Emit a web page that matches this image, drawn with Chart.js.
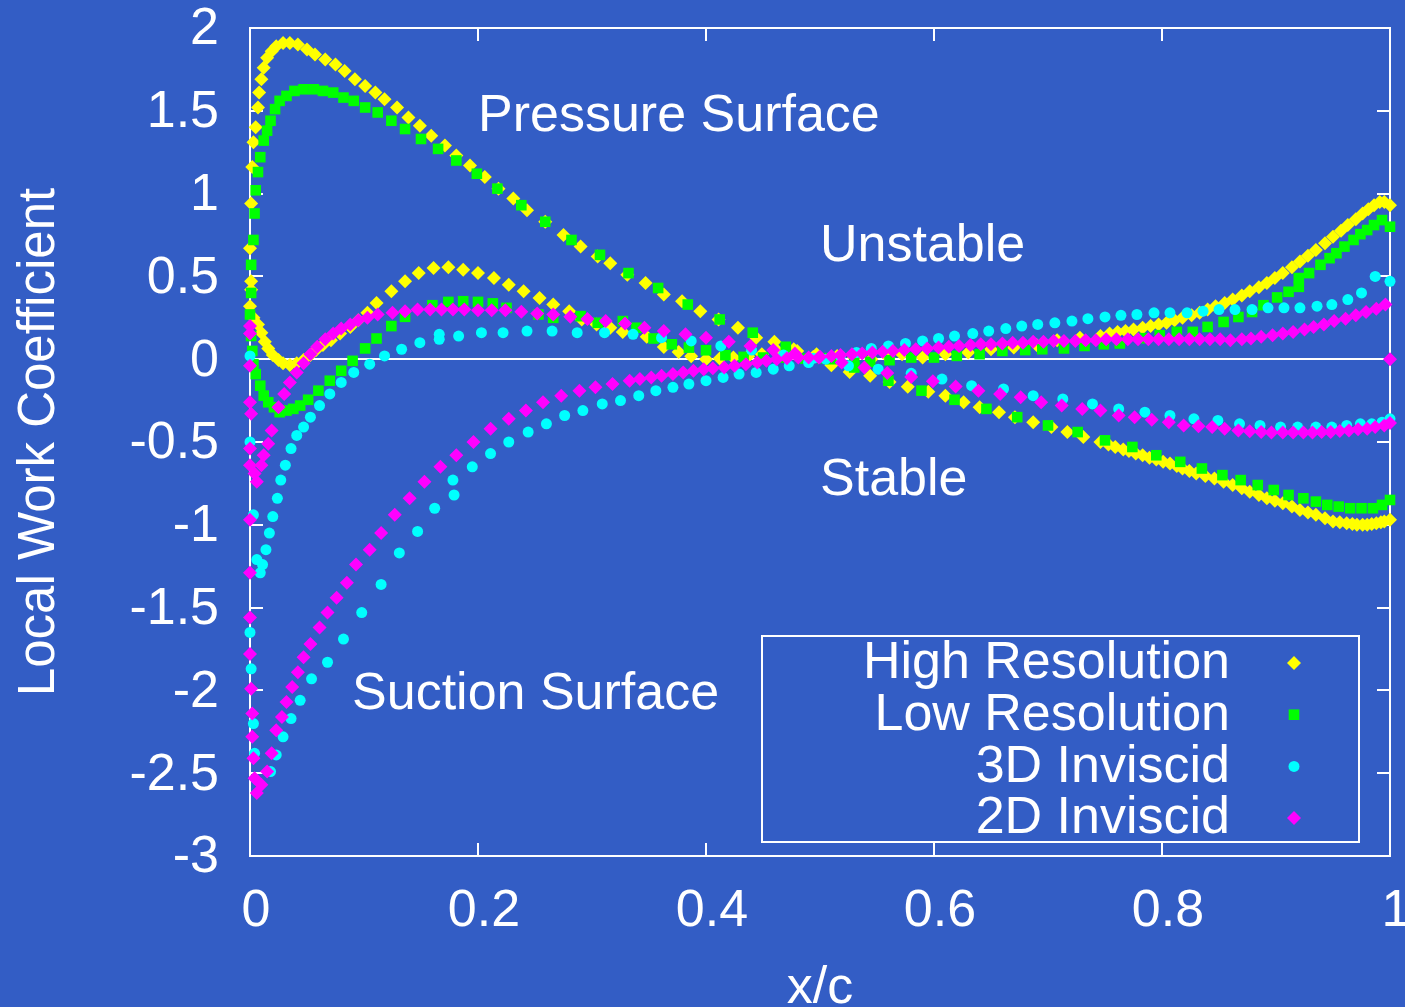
<!DOCTYPE html>
<html>
<head>
<meta charset="utf-8">
<title>Local Work Coefficient</title>
<script src="https://cdn.jsdelivr.net/npm/chart.js@4/dist/chart.umd.min.js"></script>
<style>
  html, body { margin: 0; padding: 0; background: #335dc5; }
  canvas { display: block; }
</style>
</head>
<body>
<canvas id="workChart" width="1405" height="1007"></canvas>
<script>
// Axis ticks
const xTicks = [0, 0.2, 0.4, 0.6, 0.8, 1];
const yTicks = [-3, -2.5, -2, -1.5, -1, -0.5, 0, 0.5, 1, 1.5, 2];

const seriesNames = ['High Resolution', 'Low Resolution', '3D Inviscid', '2D Inviscid'];

// High resolution, [x/c, coefficient] - branch with the 1.9 peak
const highResSurfaceA = [
	[0, 0.67], [0.001, 0.94], [0.002, 1.16], [0.003, 1.31], [0.005, 1.40], [0.007, 1.52], [0.008, 1.61],
	[0.010, 1.69], [0.012, 1.76], [0.015, 1.82], [0.019, 1.86], [0.023, 1.89], [0.029, 1.91], [0.035, 1.91],
	[0.042, 1.90], [0.050, 1.87], [0.057, 1.84], [0.066, 1.81], [0.075, 1.78], [0.083, 1.74], [0.092, 1.69],
	[0.101, 1.65], [0.110, 1.61], [0.118, 1.57], [0.129, 1.52], [0.139, 1.46], [0.149, 1.41], [0.159, 1.35],
	[0.171, 1.29], [0.181, 1.23], [0.193, 1.17], [0.206, 1.10], [0.218, 1.03], [0.231, 0.97], [0.243, 0.90],
	[0.259, 0.83], [0.275, 0.75], [0.290, 0.68], [0.305, 0.62], [0.316, 0.58], [0.331, 0.51], [0.347, 0.46],
	[0.363, 0.39], [0.379, 0.35], [0.395, 0.29], [0.411, 0.24], [0.428, 0.19], [0.444, 0.13], [0.460, 0.105],
	[0.477, 0.06], [0.494, 0.014], [0.510, -0.036], [0.526, -0.077], [0.544, -0.10], [0.561, -0.137],
	[0.577, -0.167], [0.595, -0.197], [0.610, -0.22], [0.626, -0.26], [0.640, -0.29], [0.657, -0.32],
	[0.671, -0.35], [0.687, -0.38], [0.703, -0.41], [0.717, -0.44], [0.731, -0.47], [0.746, -0.50],
	[0.753, -0.515], [0.759, -0.53], [0.766, -0.545], [0.771, -0.555], [0.777, -0.57], [0.783, -0.58],
	[0.789, -0.595], [0.795, -0.605], [0.801, -0.62], [0.807, -0.63], [0.813, -0.645], [0.818, -0.66],
	[0.824, -0.675], [0.830, -0.69], [0.838, -0.705], [0.846, -0.72], [0.854, -0.74], [0.862, -0.76],
	[0.870, -0.78], [0.877, -0.80], [0.885, -0.82], [0.892, -0.84], [0.899, -0.855], [0.906, -0.87],
	[0.914, -0.89], [0.921, -0.91], [0.928, -0.925], [0.935, -0.94], [0.943, -0.96], [0.950, -0.98],
	[0.956, -0.985], [0.962, -0.99], [0.967, -0.995], [0.971, -1.0], [0.976, -1.0], [0.980, -1.0],
	[0.984, -0.995], [0.988, -0.99], [0.992, -0.985], [0.995, -0.98], [1.0, -0.97]
];
// High resolution - branch with the small dip near the leading edge
const highResSurfaceB = [
	[0.001, 0.47], [0.001, 0.42], [0, 0.32], [0.003, 0.25], [0.007, 0.21], [0.010, 0.16], [0.013, 0.105],
	[0.016, 0.065], [0.020, 0.025], [0.025, -0.005], [0.029, -0.025], [0.035, -0.035], [0.041, -0.025],
	[0.047, -0.005], [0.053, 0.025], [0.058, 0.055], [0.064, 0.085], [0.071, 0.115], [0.079, 0.155],
	[0.088, 0.195], [0.095, 0.235], [0.103, 0.28], [0.111, 0.34], [0.124, 0.41], [0.136, 0.47], [0.148, 0.52],
	[0.161, 0.55], [0.174, 0.555], [0.187, 0.54], [0.200, 0.52], [0.214, 0.49], [0.227, 0.45], [0.240, 0.41],
	[0.254, 0.37], [0.266, 0.33], [0.280, 0.29], [0.291, 0.24], [0.304, 0.21], [0.316, 0.19], [0.327, 0.165],
	[0.348, 0.135], [0.363, 0.074], [0.376, 0.044], [0.387, 0.018], [0.400, 0], [0.412, 0.004], [0.424, 0.01],
	[0.437, 0.018], [0.449, 0.03], [0.462, 0.055], [0.480, 0.05], [0.497, 0.03], [0.515, 0.02], [0.530, 0.01],
	[0.545, 0], [0.560, 0.01], [0.572, 0.03], [0.590, 0.01], [0.610, 0.03], [0.630, 0.04], [0.650, 0.06],
	[0.670, 0.07], [0.690, 0.085], [0.708, 0.115], [0.728, 0.13], [0.746, 0.14], [0.754, 0.155], [0.761, 0.165],
	[0.768, 0.17], [0.775, 0.18], [0.783, 0.19], [0.790, 0.20], [0.797, 0.21], [0.804, 0.22], [0.811, 0.235],
	[0.818, 0.25], [0.826, 0.265], [0.833, 0.28], [0.840, 0.30], [0.847, 0.32], [0.855, 0.34], [0.862, 0.36],
	[0.870, 0.385], [0.877, 0.41], [0.885, 0.435], [0.892, 0.46], [0.899, 0.49], [0.906, 0.52], [0.914, 0.555],
	[0.921, 0.59], [0.928, 0.625], [0.935, 0.66], [0.943, 0.70], [0.950, 0.74], [0.957, 0.775], [0.963, 0.81],
	[0.970, 0.845], [0.976, 0.88], [0.981, 0.905], [0.986, 0.93], [0.991, 0.95], [0.995, 0.95], [1.0, 0.93]
];

// Low resolution
const lowResSurfaceA = [
	[0.001, 0.57], [0.003, 0.72], [0.004, 0.88], [0.005, 1.02], [0.007, 1.13], [0.009, 1.22], [0.012, 1.32],
	[0.015, 1.38], [0.018, 1.44], [0.022, 1.51], [0.026, 1.56], [0.032, 1.59], [0.039, 1.62], [0.047, 1.63],
	[0.056, 1.63], [0.064, 1.62], [0.073, 1.61], [0.082, 1.58], [0.091, 1.56], [0.101, 1.52], [0.112, 1.49],
	[0.124, 1.44], [0.136, 1.39], [0.150, 1.33], [0.165, 1.27], [0.181, 1.20], [0.199, 1.12], [0.217, 1.03],
	[0.238, 0.93], [0.259, 0.83], [0.282, 0.72], [0.307, 0.63], [0.332, 0.52], [0.358, 0.43], [0.384, 0.33],
	[0.412, 0.24], [0.441, 0.16], [0.470, 0.075], [0.502, 0.006], [0.530, -0.05], [0.560, -0.13],
	[0.589, -0.19], [0.618, -0.245], [0.646, -0.30], [0.673, -0.35], [0.700, -0.40], [0.726, -0.44],
	[0.750, -0.49], [0.774, -0.53], [0.795, -0.58], [0.816, -0.62], [0.835, -0.66], [0.853, -0.70],
	[0.869, -0.73], [0.884, -0.76], [0.898, -0.79], [0.911, -0.82], [0.924, -0.84], [0.935, -0.86],
	[0.945, -0.88], [0.955, -0.89], [0.965, -0.90], [0.975, -0.90], [0.985, -0.90], [0.993, -0.88], [1.0, -0.85]
];
const lowResSurfaceB = [
	[0.001, 0.40], [0, 0.27], [0.001, 0.14], [0.002, 0.05], [0.003, -0.03], [0.005, -0.09], [0.009, -0.16],
	[0.012, -0.22], [0.016, -0.26], [0.021, -0.29], [0.026, -0.32], [0.032, -0.31], [0.038, -0.30],
	[0.044, -0.28], [0.051, -0.245], [0.060, -0.19], [0.070, -0.13], [0.080, -0.07], [0.090, -0.01],
	[0.101, 0.065], [0.111, 0.125], [0.124, 0.20], [0.136, 0.256], [0.160, 0.326], [0.174, 0.346],
	[0.187, 0.35], [0.200, 0.346], [0.213, 0.337], [0.225, 0.31], [0.253, 0.27], [0.266, 0.25], [0.290, 0.26],
	[0.305, 0.22], [0.327, 0.23], [0.339, 0.19], [0.354, 0.125], [0.370, 0.09], [0.385, 0.07], [0.400, 0.054],
	[0.417, 0.024], [0.433, 0.014], [0.450, 0.01], [0.469, 0.01], [0.487, 0.004], [0.510, 0], [0.530, -0.01],
	[0.544, -0.016], [0.561, -0.006], [0.580, 0.01], [0.600, 0.01], [0.620, 0.02], [0.640, 0.03], [0.660, 0.05],
	[0.680, 0.055], [0.695, 0.06], [0.714, 0.065], [0.732, 0.08], [0.749, 0.09], [0.763, 0.095], [0.783, 0.127],
	[0.798, 0.145], [0.813, 0.165], [0.827, 0.165], [0.840, 0.195], [0.854, 0.225], [0.867, 0.255],
	[0.879, 0.285], [0.889, 0.326], [0.901, 0.373], [0.911, 0.407], [0.920, 0.437], [0.920, 0.49],
	[0.929, 0.52], [0.939, 0.57], [0.947, 0.61], [0.953, 0.64], [0.960, 0.68], [0.968, 0.72], [0.974, 0.755],
	[0.980, 0.78], [0.986, 0.81], [0.993, 0.84], [1.0, 0.80]
];

// 3D inviscid
const inviscid3dSurfaceA = [
	[0, 0.02], [0, -0.50], [0.003, -0.94], [0.006, -1.21], [0.009, -1.29], [0.011, -1.24], [0.014, -1.15],
	[0.017, -1.05], [0.020, -0.95], [0.024, -0.84], [0.027, -0.73], [0.031, -0.64], [0.036, -0.54],
	[0.041, -0.46], [0.047, -0.41], [0.053, -0.35], [0.061, -0.28], [0.070, -0.21], [0.080, -0.14],
	[0.091, -0.08], [0.105, -0.03], [0.118, 0.02], [0.133, 0.06], [0.149, 0.10], [0.166, 0.12], [0.166, 0.15],
	[0.183, 0.14], [0.203, 0.16], [0.222, 0.16], [0.243, 0.17], [0.265, 0.17], [0.287, 0.16], [0.311, 0.16],
	[0.336, 0.15], [0.361, 0.13], [0.387, 0.11], [0.413, 0.08], [0.440, 0.055], [0.468, 0.025], [0.494, 0.005],
	[0.525, -0.04], [0.551, -0.06], [0.580, -0.085], [0.607, -0.12], [0.633, -0.16], [0.661, -0.18],
	[0.687, -0.22], [0.713, -0.24], [0.739, -0.27], [0.762, -0.30], [0.785, -0.32], [0.807, -0.34],
	[0.828, -0.36], [0.849, -0.37], [0.868, -0.39], [0.886, -0.40], [0.904, -0.41], [0.919, -0.41],
	[0.935, -0.41], [0.949, -0.41], [0.962, -0.40], [0.974, -0.39], [0.984, -0.39], [0.993, -0.38], [1.0, -0.36]
];
const inviscid3dSurfaceB = [
	[0, -1.65], [0.001, -1.87], [0.003, -2.20], [0.004, -2.38], [0.018, -2.49], [0.023, -2.39], [0.029, -2.28],
	[0.036, -2.17], [0.044, -2.06], [0.054, -1.93], [0.068, -1.83], [0.082, -1.69], [0.098, -1.53],
	[0.115, -1.36], [0.131, -1.17], [0.147, -1.04], [0.162, -0.90], [0.179, -0.82], [0.178, -0.73],
	[0.195, -0.65], [0.211, -0.57], [0.227, -0.50], [0.244, -0.44], [0.260, -0.39], [0.276, -0.34],
	[0.292, -0.31], [0.309, -0.27], [0.325, -0.25], [0.341, -0.22], [0.356, -0.19], [0.371, -0.17],
	[0.385, -0.15], [0.400, -0.13], [0.415, -0.11], [0.429, -0.09], [0.444, -0.08], [0.459, -0.06],
	[0.473, -0.04], [0.490, -0.02], [0.505, 0], [0.518, 0.02], [0.532, 0.04], [0.545, 0.065], [0.560, 0.08],
	[0.575, 0.095], [0.590, 0.11], [0.604, 0.125], [0.618, 0.14], [0.634, 0.155], [0.648, 0.17], [0.663, 0.185],
	[0.677, 0.20], [0.691, 0.21], [0.706, 0.22], [0.721, 0.23], [0.735, 0.245], [0.750, 0.255], [0.764, 0.265],
	[0.778, 0.27], [0.793, 0.28], [0.807, 0.28], [0.822, 0.28], [0.836, 0.29], [0.850, 0.30], [0.864, 0.30],
	[0.879, 0.30], [0.893, 0.31], [0.907, 0.31], [0.921, 0.31], [0.936, 0.32], [0.949, 0.33], [0.963, 0.36],
	[0.975, 0.40], [0.987, 0.50], [1.0, 0.47]
];

// 2D inviscid
const inviscid2dSurfaceA = [
	[0, 0.20], [0, 0.155], [0, -0.04], [0, -0.26], [0.001, -0.33], [0, -0.54], [0, -0.64], [0.004, -0.69],
	[0.006, -0.74], [0.010, -0.64], [0.012, -0.58], [0.016, -0.51], [0.019, -0.43], [0.025, -0.29],
	[0.030, -0.21], [0.035, -0.14], [0.041, -0.08], [0.047, -0.025], [0.053, 0.03], [0.059, 0.075],
	[0.066, 0.12], [0.073, 0.155], [0.080, 0.185], [0.088, 0.21], [0.095, 0.235], [0.103, 0.25], [0.112, 0.27],
	[0.125, 0.28], [0.136, 0.29], [0.147, 0.30], [0.158, 0.30], [0.168, 0.30], [0.178, 0.30], [0.188, 0.30],
	[0.200, 0.296], [0.212, 0.296], [0.224, 0.296], [0.238, 0.286], [0.252, 0.276], [0.266, 0.27],
	[0.281, 0.256], [0.296, 0.242], [0.312, 0.23], [0.329, 0.216], [0.346, 0.19], [0.363, 0.17], [0.382, 0.15],
	[0.400, 0.13], [0.420, 0.105], [0.439, 0.08], [0.459, 0.055], [0.478, 0.035], [0.499, 0.01], [0.519, -0.02],
	[0.539, -0.05], [0.559, -0.083], [0.580, -0.107], [0.599, -0.133], [0.619, -0.165], [0.639, -0.19],
	[0.658, -0.21], [0.676, -0.23], [0.694, -0.26], [0.712, -0.28], [0.730, -0.30], [0.746, -0.31],
	[0.762, -0.34], [0.776, -0.35], [0.791, -0.365], [0.806, -0.38], [0.819, -0.40], [0.832, -0.405],
	[0.844, -0.41], [0.855, -0.42], [0.867, -0.43], [0.877, -0.435], [0.887, -0.44], [0.896, -0.443],
	[0.906, -0.443], [0.915, -0.443], [0.924, -0.443], [0.932, -0.443], [0.940, -0.44], [0.948, -0.44],
	[0.956, -0.433], [0.964, -0.43], [0.972, -0.423], [0.980, -0.42], [0.987, -0.41], [0.995, -0.40], [1.0, -0.385]
];
const inviscid2dSurfaceB = [
	[0, -0.97], [0, -1.29], [0, -1.56], [0, -1.78], [0.001, -1.99], [0.002, -2.14], [0.002, -2.28],
	[0.003, -2.41], [0.004, -2.53], [0.006, -2.62], [0.010, -2.57], [0.015, -2.49], [0.019, -2.38],
	[0.023, -2.24], [0.028, -2.16], [0.032, -2.07], [0.037, -1.98], [0.042, -1.89], [0.047, -1.80],
	[0.053, -1.72], [0.061, -1.62], [0.068, -1.53], [0.076, -1.44], [0.085, -1.35], [0.093, -1.24],
	[0.105, -1.15], [0.115, -1.05], [0.127, -0.94], [0.140, -0.84], [0.153, -0.74], [0.167, -0.65],
	[0.181, -0.58], [0.196, -0.50], [0.211, -0.42], [0.227, -0.36], [0.242, -0.31], [0.257, -0.26],
	[0.273, -0.22], [0.289, -0.19], [0.303, -0.17], [0.318, -0.15], [0.333, -0.13], [0.342, -0.12],
	[0.352, -0.11], [0.361, -0.10], [0.371, -0.09], [0.380, -0.08], [0.389, -0.07], [0.398, -0.06],
	[0.406, -0.055], [0.416, -0.05], [0.425, -0.04], [0.435, -0.03], [0.445, -0.02], [0.453, -0.01],
	[0.462, 0], [0.471, 0.005], [0.481, 0.01], [0.490, 0.01], [0.500, 0.015], [0.510, 0.02], [0.518, 0.025],
	[0.528, 0.03], [0.537, 0.035], [0.546, 0.04], [0.555, 0.045], [0.564, 0.05], [0.574, 0.055], [0.584, 0.06],
	[0.594, 0.065], [0.604, 0.07], [0.613, 0.075], [0.622, 0.08], [0.632, 0.085], [0.641, 0.09], [0.650, 0.09],
	[0.660, 0.095], [0.669, 0.10], [0.678, 0.10], [0.687, 0.105], [0.696, 0.105], [0.705, 0.11], [0.714, 0.11],
	[0.724, 0.11], [0.733, 0.115], [0.742, 0.115], [0.751, 0.12], [0.760, 0.12], [0.770, 0.12], [0.779, 0.12],
	[0.788, 0.12], [0.797, 0.12], [0.806, 0.12], [0.815, 0.12], [0.824, 0.12], [0.833, 0.12], [0.842, 0.12],
	[0.851, 0.12], [0.860, 0.115], [0.870, 0.12], [0.878, 0.125], [0.887, 0.135], [0.897, 0.145],
	[0.906, 0.155], [0.915, 0.165], [0.925, 0.18], [0.933, 0.195], [0.942, 0.21], [0.951, 0.23], [0.961, 0.245],
	[0.970, 0.265], [0.979, 0.285], [0.988, 0.305], [0.996, 0.33], [1.0, 0]
];

// Text placed inside the plot: [text, x/c, coefficient at the baseline]
const plotNotes = [
	['Pressure Surface', 0.2, 1.38],
	['Unstable', 0.5, 0.59],
	['Stable', 0.5, -0.82],
	['Suction Surface', 0.0895, -2.11]
];

const FONT = "'Liberation Sans', Arial, Helvetica, sans-serif";
const BG = '#335dc5';
const WHITE = '#ffffff';

const toPoints = (pairs) => pairs.map((p) => ({ x: p[0], y: p[1] }));

const seriesStyles = [
	{ color: '#ffff00', pointStyle: 'rectRot', radius: 7, order: 4 },
	{ color: '#00ff00', pointStyle: 'rect', radius: 7.5, order: 3 },
	{ color: '#00ffff', pointStyle: 'circle', radius: 5.5, order: 2 },
	{ color: '#ff00ff', pointStyle: 'rectRot', radius: 7, order: 1 }
];
const seriesData = [
	highResSurfaceA.concat(highResSurfaceB),
	lowResSurfaceA.concat(lowResSurfaceB),
	inviscid3dSurfaceA.concat(inviscid3dSurfaceB),
	inviscid2dSurfaceA.concat(inviscid2dSurfaceB)
];

// Paint the blue page background
const backgroundPlugin = {
	id: 'background',
	beforeDraw(chart) {
		const ctx = chart.ctx;
		ctx.save();
		ctx.fillStyle = BG;
		ctx.fillRect(0, 0, chart.width, chart.height);
		ctx.restore();
	}
};

// Frame and inward ticks on all four sides, like the original plot
const framePlugin = {
	id: 'frame',
	beforeDatasetsDraw(chart) {
		const { ctx, chartArea: a, scales } = chart;
		const len = 13;
		ctx.save();
		ctx.strokeStyle = WHITE;
		ctx.lineWidth = 2;
		ctx.beginPath();
		xTicks.forEach((v) => {
			const px = Math.round(scales.x.getPixelForValue(v));
			ctx.moveTo(px, a.bottom);
			ctx.lineTo(px, a.bottom - len);
			ctx.moveTo(px, a.top);
			ctx.lineTo(px, a.top + len);
		});
		yTicks.forEach((v) => {
			const py = Math.round(scales.y.getPixelForValue(v));
			ctx.moveTo(a.left, py);
			ctx.lineTo(a.left + len, py);
			ctx.moveTo(a.right, py);
			ctx.lineTo(a.right - len, py);
		});
		ctx.stroke();
		ctx.strokeRect(a.left, a.top, a.right - a.left, a.bottom - a.top);
		ctx.restore();
	}
};

function drawMarker(ctx, style, x, y) {
	ctx.fillStyle = style.color;
	if (Chart.helpers && Chart.helpers.drawPoint) {
		Chart.helpers.drawPoint(ctx, { pointStyle: style.pointStyle, radius: style.radius, rotation: 0, borderWidth: 0 }, x, y);
		return;
	}
	ctx.beginPath();
	ctx.arc(x, y, style.radius, 0, Math.PI * 2);
	ctx.fill();
}

// Notes and the key box
const notesPlugin = {
	id: 'notes',
	afterDatasetsDraw(chart) {
		const { ctx, scales } = chart;
		ctx.save();
		ctx.fillStyle = WHITE;
		ctx.font = '52px ' + FONT;
		ctx.textBaseline = 'alphabetic';
		ctx.textAlign = 'left';
		plotNotes.forEach((n) => {
			ctx.fillText(n[0], scales.x.getPixelForValue(n[1]), scales.y.getPixelForValue(n[2]));
		});

		// key
		const box = { left: 762, top: 636, right: 1359, bottom: 842 };
		ctx.strokeStyle = WHITE;
		ctx.lineWidth = 2;
		ctx.strokeRect(box.left, box.top, box.right - box.left, box.bottom - box.top);
		ctx.textAlign = 'right';
		ctx.textBaseline = 'middle';
		seriesNames.forEach((name, i) => {
			const y = 664 + i * 51.7;
			ctx.fillStyle = WHITE;
			ctx.fillText(name, 1230, y);
			drawMarker(ctx, seriesStyles[i], 1294, y - 1);
		});
		ctx.restore();
	}
};

// keep the plot box where the original has it
function fixWidth(s) {
	s.width = 250;
	s.paddingTop = 0;
	s.paddingBottom = 0;
}
function fixHeight(s) {
	s.height = 151;
	s.paddingLeft = 0;
	s.paddingRight = 0;
}

const tickFont = { family: FONT, size: 52 };

new Chart(document.getElementById('workChart'), {
	type: 'scatter',
	data: {
		datasets: seriesData.map((pairs, i) => ({
			label: seriesNames[i],
			data: toPoints(pairs),
			showLine: false,
			pointStyle: seriesStyles[i].pointStyle,
			pointRadius: seriesStyles[i].radius,
			pointHoverRadius: seriesStyles[i].radius,
			backgroundColor: seriesStyles[i].color,
			borderColor: seriesStyles[i].color,
			borderWidth: 0,
			order: seriesStyles[i].order,
			clip: false
		}))
	},
	options: {
		responsive: false,
		animation: false,
		events: [],
		layout: { autoPadding: false, padding: { top: 28, right: 15, left: 0, bottom: 0 } },
		plugins: {
			legend: { display: false },
			tooltip: { enabled: false }
		},
		scales: {
			x: {
				type: 'linear',
				min: 0,
				max: 1,
				afterFit: fixHeight,
				afterBuildTicks: (s) => { s.ticks = xTicks.map((v) => ({ value: v })); },
				grid: { display: false, drawTicks: false },
				border: { display: false },
				ticks: {
					color: WHITE,
					font: tickFont,
					padding: 24,
					labelOffset: 6,
					maxRotation: 0,
					autoSkip: false,
					callback: (v) => String(v)
				},
				title: {
					display: true,
					text: 'x/c',
					color: WHITE,
					font: { family: FONT, size: 52, lineHeight: 1 },
					padding: { top: 0, bottom: -8 }
				}
			},
			y: {
				type: 'linear',
				min: -3,
				max: 2,
				afterFit: fixWidth,
				afterBuildTicks: (s) => { s.ticks = yTicks.map((v) => ({ value: v })); },
				grid: {
					drawTicks: false,
					lineWidth: 2,
					color: (c) => (c.tick && c.tick.value === 0 ? WHITE : 'rgba(0,0,0,0)')
				},
				border: { display: false },
				ticks: {
					color: WHITE,
					font: tickFont,
					padding: 31,
					labelOffset: 2,
					autoSkip: false,
					callback: (v) => String(v)
				},
				title: {
					display: true,
					text: 'Local Work Coefficient',
					color: WHITE,
					font: { family: FONT, size: 51, lineHeight: 1 },
					padding: { top: 14, bottom: 0 }
				}
			}
		}
	},
	plugins: [backgroundPlugin, framePlugin, notesPlugin]
});
</script>
</body>
</html>
